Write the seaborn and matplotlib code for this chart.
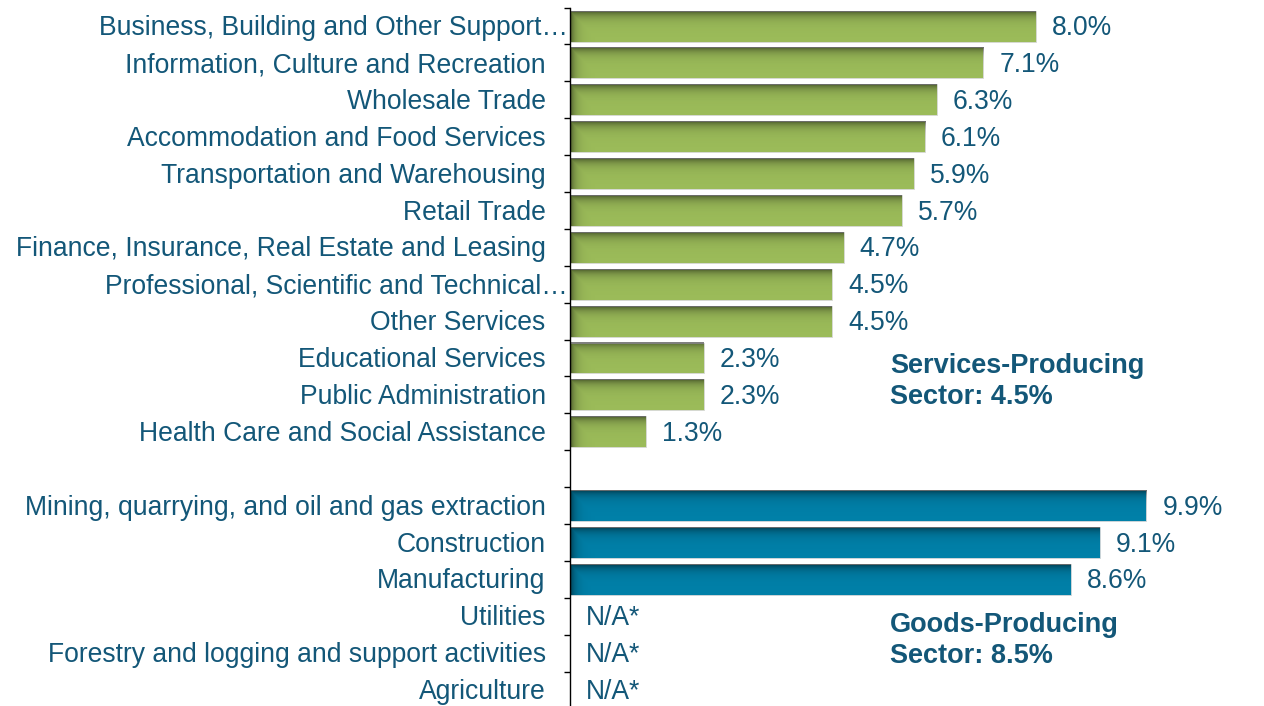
import numpy as np
import pandas as pd
import matplotlib
matplotlib.use("Agg")
import matplotlib.pyplot as plt
import matplotlib.transforms as mtransforms
import seaborn as sns

sns.set_theme(style="white")
plt.rcParams["font.family"] = ["Liberation Sans", "DejaVu Sans"]

# Employment growth by industry, grouped by sector
services_industries = [
    "Business, Building and Other Support…",
    "Information, Culture and Recreation",
    "Wholesale Trade",
    "Accommodation and Food Services",
    "Transportation and Warehousing",
    "Retail Trade",
    "Finance, Insurance, Real Estate and Leasing",
    "Professional, Scientific and Technical…",
    "Other Services",
    "Educational Services",
    "Public Administration",
    "Health Care and Social Assistance",
]
services_values = [8.0, 7.1, 6.3, 6.1, 5.9, 5.7, 4.7, 4.5, 4.5, 2.3, 2.3, 1.3]

goods_industries = [
    "Mining, quarrying, and oil and gas extraction",
    "Construction",
    "Manufacturing",
    "Utilities",
    "Forestry and logging and support activities",
    "Agriculture",
]
goods_values = [9.9, 9.1, 8.6, np.nan, np.nan, np.nan]

sector_names = ["Services-Producing", "Goods-Producing"]
sector_totals = [4.5, 8.5]
truncated = {"Business, Building and Other Support…",
             "Professional, Scientific and Technical…"}

GREEN = "#9BBB59"
BLUE = "#0080A8"
TEXT = "#135778"
FS = 19.1

df = pd.DataFrame({
    "industry": services_industries + goods_industries,
    "value": services_values + goods_values,
    "sector": [sector_names[0]] * len(services_industries)
              + [sector_names[1]] * len(goods_industries),
})
gap = " "
order = services_industries + [gap] + goods_industries

fig = plt.figure(figsize=(12.64, 7.06), dpi=100)
ax = fig.add_axes([570 / 1264, -2.4 / 706, (1264 - 570) / 1264, 700.8 / 706])

sns.barplot(data=df.dropna(), x="value", y="industry", hue="sector",
            order=order, hue_order=sector_names,
            palette=[GREEN, BLUE], orient="h", dodge=False,
            width=0.84, saturation=1, legend=False, ax=ax)

ax.set_xlim(0, 11.92)
ax.set_ylim(len(order) - 0.5, -0.5)
ax.set_xlabel("")
ax.set_ylabel("")
ax.set_xticks([])
ax.set_yticks(range(len(order)))
ax.set_yticklabels([])
ax.tick_params(axis="y", which="major", length=0)
ax.set_yticks(np.arange(-0.5, len(order)), minor=True)
ax.tick_params(axis="y", which="minor", length=4.5, width=1, color="black",
               direction="out", left=True)
for side in ["top", "right", "bottom"]:
    ax.spines[side].set_visible(False)
ax.spines["left"].set_color("black")
ax.spines["left"].set_linewidth(1)

# Soft shading along the top and left edge of each bar
fig.canvas.draw()
px_per_x = ax.transData.transform((1, 0))[0] - ax.transData.transform((0, 0))[0]
px_per_y = abs(ax.transData.transform((0, 1))[1] - ax.transData.transform((0, 0))[1])
for patch in list(ax.patches):
    w = patch.get_width()
    if not np.isfinite(w) or w <= 0:
        continue
    x0, y0, h = patch.get_x(), patch.get_y(), patch.get_height()
    ncol = max(int(w * px_per_x), 2)
    nrow = max(int(h * px_per_y), 2)
    yy = np.arange(nrow)[:, None]
    xx = np.arange(ncol)[None, :]
    a_top = 0.5 * np.exp(-yy / 5.0)
    a_left = 0.5 * np.exp(-xx / 5.0)
    alpha = np.maximum(a_top, a_left)
    alpha = np.broadcast_to(alpha, (nrow, ncol))
    rgba = np.zeros((nrow, ncol, 4))
    rgba[..., 3] = alpha
    top = min(y0, y0 + h)
    bottom = max(y0, y0 + h)
    ax.imshow(rgba, extent=(x0, x0 + w, bottom, top), origin="upper",
              aspect="auto", interpolation="bilinear", zorder=patch.get_zorder() + 0.1)
    patch.set_edgecolor("#d9d9d9")
    patch.set_linewidth(0.6)
ax.set_xlim(0, 11.92)
ax.set_ylim(len(order) - 0.5, -0.5)

# Category names
yaxis_tf = mtransforms.blended_transform_factory(ax.transAxes, ax.transData)
for i, name in enumerate(order):
    if name == gap:
        continue
    dx = -1.5 if name in truncated else -17.5
    tf = mtransforms.offset_copy(yaxis_tf, fig=fig, x=dx, y=-1.5, units="points")
    ax.text(0, i, name, transform=tf, ha="right", va="center",
            fontsize=FS, color=TEXT)

# Value labels
for i, name in enumerate(order):
    if name == gap:
        continue
    val = df.loc[df["industry"] == name, "value"].iloc[0]
    label = "N/A*" if np.isnan(val) else f"{val:.1f}%"
    xpos = 0 if np.isnan(val) else val
    tf = mtransforms.offset_copy(ax.transData, fig=fig, x=11.5, y=-1.5, units="points")
    ax.text(xpos, i, label, transform=tf, ha="left", va="center",
            fontsize=FS, color=TEXT)

# Sector summaries
ax.text(5.5, 9.65, f"{sector_names[0]}\nSector: {sector_totals[0]:.1f}%",
        ha="left", va="center", fontsize=19.5, fontweight="bold",
        color=TEXT, linespacing=1.25)
ax.text(5.5, 16.65, f"{sector_names[1]}\nSector: {sector_totals[1]:.1f}%",
        ha="left", va="center", fontsize=19.5, fontweight="bold",
        color=TEXT, linespacing=1.25)

fig.savefig("out.png", dpi=100)
